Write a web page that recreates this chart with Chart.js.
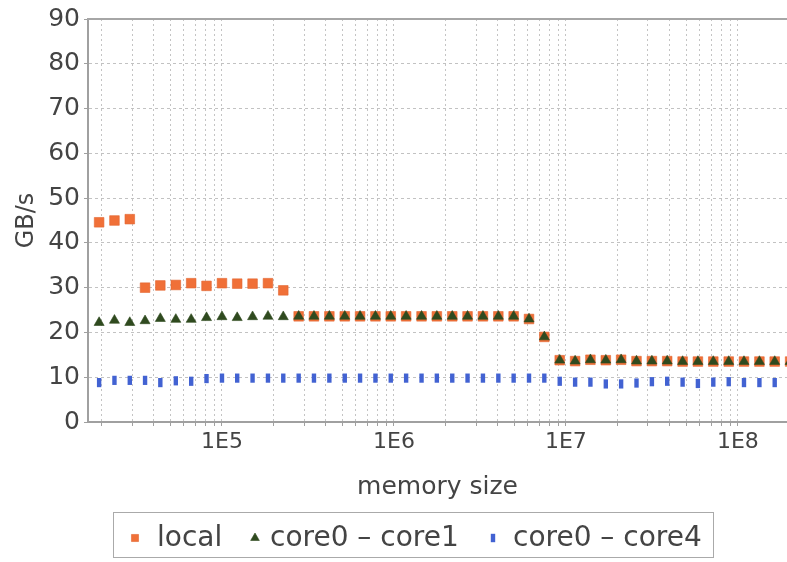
<!DOCTYPE html>
<html>
<head>
<meta charset="utf-8">
<script src="https://cdn.jsdelivr.net/npm/chart.js@4.4.1/dist/chart.umd.min.js"></script>
<style>
html,body{margin:0;padding:0;background:#ffffff;}
#wrap{width:787px;height:562px;}
</style>
</head>
<body>
<div id="wrap"><canvas id="c" width="787" height="562"></canvas></div>
<script>
// ---- data ----
const seriesNames = ['local', 'core0 \u2013 core1', 'core0 \u2013 core4'];

const memorySizes = [
  19300, 23700, 29100, 35700, 43800, 53900, 66200, 81300, 100000, 122600,
  150600, 185100, 227200, 279200, 342700, 421100, 517600, 635200, 780500, 958100,
  1177000, 1447000, 1776000, 2183000, 2679000, 3292000, 4046000, 4966000, 6101000, 7488000,
  9204000, 11310000, 13880000, 17060000, 20940000, 25730000, 31620000, 38810000, 47700000, 58540000,
  71940000, 88440000, 108500000, 133400000, 163700000, 201200000
];

const localGBs = [
  44.6, 45.0, 45.3, 30.0, 30.5, 30.6, 31.0, 30.4, 31.0, 30.9,
  30.9, 31.0, 29.4, 23.6, 23.6, 23.6, 23.6, 23.6, 23.6, 23.6,
  23.6, 23.6, 23.6, 23.6, 23.6, 23.6, 23.6, 23.6, 23.0, 19.0,
  13.8, 13.6, 13.9, 13.8, 13.9, 13.6, 13.6, 13.6, 13.5, 13.5,
  13.5, 13.5, 13.5, 13.5, 13.5, 13.5
];

const core01GBs = [
  22.2, 22.7, 22.2, 22.6, 23.1, 22.9, 22.9, 23.3, 23.5, 23.3,
  23.5, 23.6, 23.5, 23.6, 23.6, 23.6, 23.6, 23.6, 23.6, 23.6,
  23.6, 23.6, 23.6, 23.6, 23.6, 23.6, 23.6, 23.6, 23.0, 19.0,
  13.8, 13.6, 13.9, 13.8, 13.9, 13.6, 13.6, 13.6, 13.5, 13.5,
  13.5, 13.5, 13.5, 13.5, 13.5, 13.5
];

const core04GBs = [
  8.8, 9.3, 9.3, 9.3, 8.8, 9.2, 9.1, 9.7, 9.8, 9.8,
  9.8, 9.8, 9.8, 9.8, 9.8, 9.8, 9.8, 9.8, 9.8, 9.8,
  9.8, 9.8, 9.8, 9.8, 9.8, 9.8, 9.8, 9.8, 9.8, 9.8,
  9.1, 8.9, 8.9, 8.5, 8.5, 8.7, 9.0, 9.1, 8.9, 8.6,
  8.9, 9.0, 8.8, 8.8, 8.8, 9.0
];

const xTickValues = [
  20000, 30000, 40000, 50000, 60000, 70000, 80000, 90000,
  100000, 200000, 300000, 400000, 500000, 600000, 700000, 800000, 900000,
  1000000, 2000000, 3000000, 4000000, 5000000, 6000000, 7000000, 8000000, 9000000,
  10000000, 20000000, 30000000, 40000000, 50000000, 60000000, 70000000, 80000000, 90000000,
  100000000
];
const xMajorValues = [100000, 1000000, 10000000, 100000000];
const xTickLabels = ['1E5', '1E6', '1E7', '1E8'];
const yTickLabels = ['0', '10', '20', '30', '40', '50', '60', '70', '80', '90'];

const xAxisTitle = 'memory size';
const yAxisTitle = 'GB/s';

// ---- chart ----
const FONT = '"DejaVu Sans", sans-serif';
Chart.defaults.font.family = FONT;
Chart.defaults.color = '#444444';

function pts(ys) { return memorySizes.map((x, i) => ({x: x, y: ys[i]})); }

const legendRadius = [5, 5, 4.2];

const topBorder = {
  id: 'topBorder',
  afterDatasetsDraw(chart) {
    const {ctx, chartArea} = chart;
    ctx.save();
    ctx.strokeStyle = '#a6a6a6';
    ctx.lineWidth = 2;
    ctx.beginPath();
    ctx.moveTo(chartArea.left - 1, chartArea.top);
    ctx.lineTo(chartArea.right, chartArea.top);
    ctx.stroke();
    ctx.restore();
  }
};

const boxLegend = {
  id: 'boxLegend',
  afterDraw(chart) {
    const ctx = chart.ctx;
    const markerX = [135, 255, 493];
    const textX = [157, 270, 513];
    const cy = 538;
    ctx.save();
    ctx.strokeStyle = '#aaaaaa';
    ctx.lineWidth = 1;
    ctx.strokeRect(113.5, 512.5, 600, 45);
    ctx.font = '28px ' + FONT;
    ctx.textBaseline = 'middle';
    ctx.textAlign = 'left';
    chart.data.datasets.forEach((ds, i) => {
      ctx.fillStyle = ds.backgroundColor;
      ctx.strokeStyle = ds.borderColor;
      ctx.lineWidth = ds.borderWidth;
      Chart.helpers.drawPoint(ctx, {
        pointStyle: ds.pointStyle,
        rotation: ds.pointRotation || 0,
        radius: legendRadius[i],
        borderWidth: ds.borderWidth
      }, markerX[i], cy);
      ctx.fillStyle = '#444444';
      ctx.fillText(ds.label, textX[i], cy + 1);
    });
    ctx.restore();
  }
};

new Chart(document.getElementById('c'), {
  type: 'scatter',
  data: {
    datasets: [
      {
        label: seriesNames[0], data: pts(localGBs), order: 2,
        pointStyle: 'rect', pointRadius: 6.8, pointHoverRadius: 6.8,
        backgroundColor: '#f07038', borderColor: '#e2652f', borderWidth: 0.6,
        clip: false
      },
      {
        label: seriesNames[1], data: pts(core01GBs), order: 1,
        pointStyle: 'triangle', pointRadius: 5.8, pointHoverRadius: 5.8,
        backgroundColor: '#2f4a1f', borderColor: '#2f4a1f', borderWidth: 0.6,
        clip: false
      },
      {
        label: seriesNames[2], data: pts(core04GBs), order: 0,
        pointStyle: 'line', pointRotation: 90, pointRadius: 4.6, pointHoverRadius: 4.6,
        backgroundColor: '#4262d2', borderColor: '#4262d2', borderWidth: 4.4,
        clip: false
      }
    ]
  },
  options: {
    responsive: false,
    animation: false,
    devicePixelRatio: 1,
    layout: {autoPadding: false, padding: {top: 17, right: 0, bottom: 52, left: 0}},
    plugins: {legend: {display: false}, tooltip: {enabled: false}},
    scales: {
      x: {
        type: 'logarithmic',
        min: 16630,
        max: 193000000,
        afterFit: (s) => { s.height = 88; s.paddingLeft = 0; s.paddingRight = 0; },
        afterBuildTicks: (s) => { s.ticks = xTickValues.map(v => ({value: v})); },
        ticks: {
          autoSkip: false, maxRotation: 0, minRotation: 0, padding: 3,
          font: {size: 22}, color: '#444444',
          callback: (v) => { const k = xMajorValues.indexOf(v); return k >= 0 ? xTickLabels[k] : ''; }
        },
        grid: {color: '#c4c4c4', lineWidth: 1, drawTicks: true, tickLength: 4, tickColor: '#a0a0a0', tickWidth: 1},
        border: {display: true, color: '#a0a0a0', width: 2, dash: [2, 3]},
        title: {display: true, text: xAxisTitle, font: {size: 25}, color: '#444444', padding: {top: 0, bottom: 8}}
      },
      y: {
        min: 0, max: 90,
        afterFit: (s) => { s.width = 88; },
        ticks: {
          stepSize: 10, padding: 4, font: {size: 25}, color: '#444444',
          callback: (v, i) => yTickLabels[i]
        },
        grid: {color: '#c2c2c2', lineWidth: 1, drawTicks: true, tickLength: 4, tickColor: '#a0a0a0', tickWidth: 1},
        border: {display: true, color: '#a0a0a0', width: 2, dash: [3, 3]},
        title: {display: true, text: yAxisTitle, font: {size: 24}, color: '#444444', padding: {top: 12, bottom: 0}}
      }
    }
  },
  plugins: [topBorder, boxLegend]
});
</script>
</body>
</html>
